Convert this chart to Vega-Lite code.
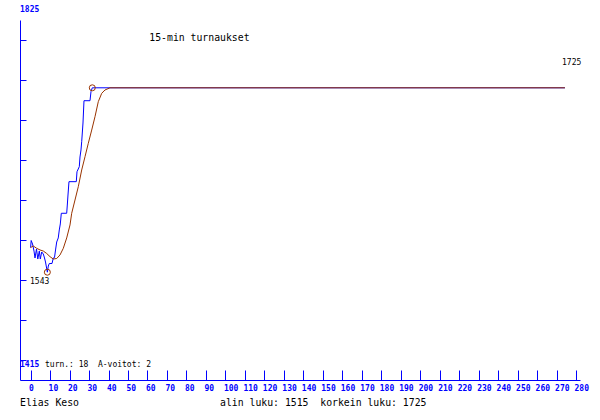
{
  "$schema": "https://vega.github.io/schema/vega-lite/v6.json",
  "width": 560,
  "height": 360,
  "autosize": {"type": "none"},
  "padding": {"left": 20, "top": 20, "right": 20, "bottom": 40},
  "background": "white",
  "config": {"view": {"stroke": null}},
  "datasets": {
    "tulokset": [
      {"peli": 0, "luku": 1543},
      {"peli": 0.3, "luku": 1551.1},
      {"peli": 1.0, "luku": 1547.1},
      {"peli": 1.75, "luku": 1539.1},
      {"peli": 2.26, "luku": 1531.2},
      {"peli": 3.03, "luku": 1541.4},
      {"peli": 3.7, "luku": 1530.0},
      {"peli": 4.47, "luku": 1539.1},
      {"peli": 4.98, "luku": 1530.0},
      {"peli": 5.7, "luku": 1538.0},
      {"peli": 6.52, "luku": 1535.7},
      {"peli": 7.14, "luku": 1531.2},
      {"peli": 7.65, "luku": 1526.6},
      {"peli": 8.6, "luku": 1515},
      {"peli": 9.09, "luku": 1522.0},
      {"peli": 9.6, "luku": 1524.9},
      {"peli": 11.0, "luku": 1524.9},
      {"peli": 11.65, "luku": 1531.2},
      {"peli": 12.27, "luku": 1531.7},
      {"peli": 12.8, "luku": 1540.3},
      {"peli": 13.4, "luku": 1549.4},
      {"peli": 14.2, "luku": 1554.0},
      {"peli": 14.73, "luku": 1563.1},
      {"peli": 15.25, "luku": 1569.9},
      {"peli": 15.76, "luku": 1582.1},
      {"peli": 18.53, "luku": 1582.1},
      {"peli": 18.84, "luku": 1591.5},
      {"peli": 19.2, "luku": 1602.9},
      {"peli": 19.7, "luku": 1618.1},
      {"peli": 23.46, "luku": 1618.1},
      {"peli": 23.82, "luku": 1629.4},
      {"peli": 25.0, "luku": 1635.2},
      {"peli": 25.36, "luku": 1646.2},
      {"peli": 25.87, "luku": 1654.2},
      {"peli": 26.23, "luku": 1663.6},
      {"peli": 26.9, "luku": 1684.9},
      {"peli": 27.41, "luku": 1710.3},
      {"peli": 30.49, "luku": 1710.3},
      {"peli": 31.0, "luku": 1720.6},
      {"peli": 31.67, "luku": 1725},
      {"peli": 274.3, "luku": 1725}
    ],
    "keskiarvo": [
      {"peli": 0, "luku": 1543.1},
      {"peli": 1.39, "luku": 1544.8},
      {"peli": 3.13, "luku": 1542.2},
      {"peli": 4.83, "luku": 1540.3},
      {"peli": 6.52, "luku": 1539.1},
      {"peli": 8.26, "luku": 1536.3},
      {"peli": 9.96, "luku": 1532.7},
      {"peli": 11.65, "luku": 1530.0},
      {"peli": 13.4, "luku": 1530.6},
      {"peli": 15.09, "luku": 1534.6},
      {"peli": 16.79, "luku": 1542.2},
      {"peli": 18.53, "luku": 1554.0},
      {"peli": 20.23, "luku": 1568.8},
      {"peli": 21.1, "luku": 1582.1},
      {"peli": 22.79, "luku": 1597.2},
      {"peli": 24.49, "luku": 1612.4},
      {"peli": 26.23, "luku": 1631.4},
      {"peli": 27.93, "luku": 1646.5},
      {"peli": 29.62, "luku": 1661.8},
      {"peli": 31.37, "luku": 1676.9},
      {"peli": 33.06, "luku": 1692.1},
      {"peli": 34.75, "luku": 1709.2},
      {"peli": 36.5, "luku": 1718.7},
      {"peli": 38.19, "luku": 1722.5},
      {"peli": 40.76, "luku": 1725},
      {"peli": 274.3, "luku": 1725}
    ],
    "aaripisteet": [
      {"peli": 8.6, "luku": 1515},
      {"peli": 31.67, "luku": 1725}
    ],
    "tekstit": [
      {"ryhma": "otsikko", "teksti": "15-min turnaukset", "peli": 60.93, "luku": 1778.3},
      {"ryhma": "otsikko", "teksti": "Elias Keso", "peli": -5.44, "luku": 1362.9},
      {"ryhma": "otsikko", "teksti": "alin luku: 1515\u00a0 korkein luku: 1725", "peli": 97.23, "luku": 1362.9},
      {"ryhma": "merkinta", "teksti": "turn.: 18\u00a0 A-voitot: 2", "peli": 7.39, "luku": 1407.4},
      {"ryhma": "merkinta", "teksti": "1543", "peli": -0.31, "luku": 1501.6},
      {"ryhma": "merkinta", "teksti": "1725", "peli": 272.8, "luku": 1751.5},
      {"ryhma": "akseli", "teksti": "1825", "peli": -5.44, "luku": 1811.3},
      {"ryhma": "akseli", "teksti": "1415", "peli": -5.44, "luku": 1407.4}
    ]
  },
  "encoding": {
    "x": {"field": "peli", "type": "quantitative", "scale": {"domain": [-5.44, 282.03], "nice": false, "zero": false},
      "axis": {
        "values": [0,10,20,30,40,50,60,70,80,90,100,110,120,130,140,150,160,170,180,190,200,210,220,230,240,250,260,270,280],
        "title": null, "grid": false,
        "domainColor": "#0000ff", "tickColor": "#0000ff", "labelColor": "#0000ff",
        "tickSize": -10, "tickWidth": 1, "labelPadding": 14,
        "labelFont": "DejaVu Sans Mono", "labelFontSize": 8, "labelFontWeight": "bold",
        "labelAlign": "left", "labelOffset": -2, "labelFlush": false, "labelOverlap": false
      }},
    "y": {"field": "luku", "type": "quantitative", "scale": {"domain": [1392.22, 1802.22], "nice": false, "zero": false},
      "axis": {
        "values": [1779.44, 1733.89, 1688.33, 1642.78, 1597.22, 1551.67, 1506.11, 1460.56, 1415],
        "title": null, "grid": false, "labels": false,
        "domainColor": "#0000ff", "tickColor": "#0000ff", "tickSize": -6
      }}
  },
  "layer": [
    {
      "data": {"values": [{}]},
      "mark": {"type": "rect", "fillOpacity": 0, "stroke": "black", "strokeWidth": 1},
      "encoding": {
        "x": {"datum": -15.45, "type": "quantitative"},
        "x2": {"datum": 291.53},
        "y": {"datum": 1348.4, "type": "quantitative"},
        "y2": {"datum": 1827.3}
      }
    },
    {
      "data": {"name": "tulokset"},
      "mark": {"type": "line", "color": "#0000ff", "strokeWidth": 1},
      "encoding": {"order": {"value": null}}
    },
    {
      "data": {"name": "keskiarvo"},
      "mark": {"type": "line", "color": "#993300", "strokeWidth": 1},
      "encoding": {"order": {"value": null}}
    },
    {
      "data": {"name": "aaripisteet"},
      "mark": {"type": "point", "shape": "circle", "filled": false, "color": "#993300", "strokeWidth": 1, "size": 36, "opacity": 1}
    },
    {
      "data": {"name": "tekstit"},
      "transform": [{"filter": "datum.ryhma === 'otsikko'"}],
      "mark": {"type": "text", "font": "DejaVu Sans Mono", "fontSize": 9.8, "color": "black", "align": "left", "baseline": "alphabetic"},
      "encoding": {"text": {"field": "teksti"}}
    },
    {
      "data": {"name": "tekstit"},
      "transform": [{"filter": "datum.ryhma === 'merkinta'"}],
      "mark": {"type": "text", "font": "DejaVu Sans Mono", "fontSize": 8, "color": "black", "align": "left", "baseline": "alphabetic"},
      "encoding": {"text": {"field": "teksti"}}
    },
    {
      "data": {"name": "tekstit"},
      "transform": [{"filter": "datum.ryhma === 'akseli'"}],
      "mark": {"type": "text", "font": "DejaVu Sans Mono", "fontSize": 8, "fontWeight": "bold", "color": "#0000ff", "align": "left", "baseline": "alphabetic"},
      "encoding": {"text": {"field": "teksti"}}
    }
  ]
}
